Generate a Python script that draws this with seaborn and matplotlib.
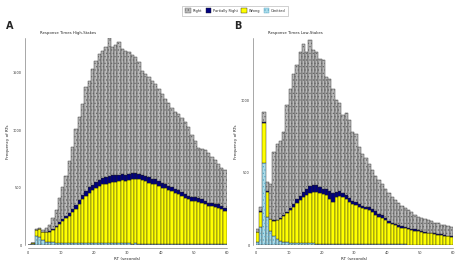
import numpy as np
import pandas as pd
import matplotlib.pyplot as plt
from matplotlib.patches import Patch, Rectangle
from matplotlib.colors import to_rgba
import seaborn as sns

# RT bins of 1 second, 0..60
bin_edges = list(range(0, 61))
categories = ["Right", "Partially Right", "Wrong", "Omitted"]

# Panel A: high stakes (counts per 1 s bin)
high_right = [0, 2, 7, 12, 14, 37, 52, 97, 138, 214, 281, 342, 450, 538, 662, 719, 786, 902, 923, 1004,
              1048, 1095, 1103, 1130, 1202, 1113, 1128, 1150, 1086, 1072, 1055, 1023, 1002, 967, 897, 880, 869, 850, 824, 798,
              768, 733, 724, 687, 669, 667, 647, 628, 600, 544, 489, 437, 434, 439, 435, 395, 383, 350, 336, 332]
high_partial = [0, 0, 3, 3, 3, 4, 6, 9, 12, 15, 18, 22, 25, 30, 34, 38, 42, 45, 48, 50,
                52, 53, 55, 56, 55, 56, 58, 56, 55, 56, 57, 55, 53, 50, 50, 47, 46, 44, 44, 42,
                42, 40, 39, 38, 36, 35, 35, 33, 33, 33, 31, 31, 30, 30, 29, 29, 28, 28, 27, 27]
high_wrong = [0, 8, 52, 65, 69, 79, 87, 108, 137, 163, 189, 213, 232, 269, 291, 336, 380, 408, 438, 459,
              483, 496, 512, 519, 526, 536, 536, 543, 548, 543, 549, 558, 563, 558, 550, 545, 529, 516, 516, 501,
              488, 481, 465, 459, 444, 431, 415, 402, 387, 373, 373, 366, 358, 345, 330, 330, 324, 316, 302, 288]
high_omitted = [0, 10, 78, 70, 44, 30, 26, 22, 20, 20, 20, 19, 20, 18, 19, 18, 17, 18, 17, 17,
                16, 17, 16, 15, 16, 15, 15, 14, 15, 14, 14, 13, 14, 13, 13, 12, 13, 12, 12, 12,
                11, 12, 11, 11, 11, 10, 11, 10, 10, 10, 10, 9, 10, 9, 9, 9, 8, 9, 8, 8]

# Panel B: low stakes
low_right = [18, 27, 67, 59, 237, 470, 525, 532, 574, 736, 825, 900, 927, 994, 1027, 949, 1009, 931, 921, 888,
             891, 776, 775, 721, 635, 608, 539, 563, 537, 480, 474, 397, 359, 334, 300, 270, 248, 232, 210, 202,
             191, 175, 163, 151, 140, 130, 124, 114, 102, 94, 93, 89, 87, 79, 75, 75, 65, 65, 66, 66]
low_partial = [0, 5, 10, 8, 3, 5, 5, 8, 8, 10, 15, 20, 25, 30, 35, 40, 45, 46, 45, 40,
               35, 40, 55, 60, 35, 30, 28, 28, 25, 22, 20, 18, 18, 16, 18, 20, 22, 22, 20, 18,
               15, 12, 12, 10, 10, 10, 8, 8, 8, 7, 7, 6, 6, 6, 5, 5, 5, 5, 4, 4]
low_wrong = [72, 105, 275, 175, 80, 105, 130, 152, 178, 202, 226, 246, 276, 297, 318, 333, 349, 357, 358, 350,
             340, 336, 311, 291, 322, 332, 322, 313, 293, 273, 269, 259, 247, 244, 239, 225, 205, 190, 185, 165,
             146, 139, 131, 122, 116, 111, 107, 100, 97, 92, 87, 82, 77, 77, 73, 68, 68, 63, 58, 55]
low_omitted = [20, 125, 565, 193, 100, 60, 40, 28, 22, 18, 15, 14, 14, 13, 12, 12, 11, 11, 10, 10,
               10, 9, 9, 9, 8, 8, 8, 7, 7, 7, 7, 6, 6, 6, 6, 5, 5, 5, 5, 5,
               4, 4, 4, 4, 4, 4, 3, 3, 3, 3, 3, 3, 3, 3, 2, 2, 2, 2, 2, 2]

colors = {"Right": "#b9b9b9", "Partially Right": "#000080", "Wrong": "#ffff00", "Omitted": "#a9dcea"}
hatch_colors = {"Right": "#666666", "Omitted": "#5aa6c4"}


def make_long(series):
    rows = []
    for cat, vals in zip(categories, series):
        for i, v in enumerate(vals):
            rows.append({"rt": bin_edges[i] + 0.5, "type": cat, "count": v})
    return pd.DataFrame(rows)


sns.set_style("white")
plt.rcParams["font.family"] = ["DejaVu Sans"]
plt.rcParams["hatch.linewidth"] = 0.5

fig = plt.figure(figsize=(4.57, 2.61), dpi=100)
axA = fig.add_axes([0.0613, 0.0613, 0.435, 0.793])
axB = fig.add_axes([0.560, 0.0613, 0.431, 0.793])

panels = [
    (axA, [high_right, high_partial, high_wrong, high_omitted], "Response Times High-Stakes", 1800, [0, 500, 1000, 1500], "A"),
    (axB, [low_right, low_partial, low_wrong, low_omitted], "Response Times Low-Stakes", 1430, [0, 500, 1000], "B"),
]

for ax, series, title, ytop, yticks, letter in panels:
    df = make_long(series)
    sns.histplot(data=df, x="rt", weights="count", hue="type", hue_order=categories,
                 multiple="stack", bins=bin_edges, palette=colors, alpha=1,
                 edgecolor="#222222", linewidth=0.3, legend=False, ax=ax)
    # dotted texture on Right / Omitted bars
    for p in list(ax.patches):
        fc = p.get_facecolor()
        for cat, hc in hatch_colors.items():
            if np.allclose(fc, to_rgba(colors[cat]), atol=0.01) and p.get_height() > 0:
                ax.add_patch(Rectangle((p.get_x(), p.get_y()), p.get_width(), p.get_height(),
                                       fill=False, hatch=".....", edgecolor=hc, linewidth=0, zorder=p.get_zorder() + 0.1))
    ax.set_xlim(0, 60)
    ax.set_ylim(0, ytop)
    ax.set_xticks(range(0, 61, 10))
    ax.set_yticks(yticks)
    ax.tick_params(labelsize=2.5, length=1.5, width=0.4, pad=1, colors="#555555", labelcolor="#333333")
    ax.set_xlabel("RT (seconds)", fontsize=3, labelpad=1)
    ax.set_ylabel("Frequency of RTs", fontsize=3, labelpad=2)
    ax.text(0.06, 1.015, title, transform=ax.transAxes, fontsize=2.8, ha="left", va="bottom")
    for side in ["top", "right"]:
        ax.spines[side].set_visible(False)
    for side in ["left", "bottom"]:
        ax.spines[side].set_linewidth(0.4)
        ax.spines[side].set_color("#666666")
        ax.spines[side].set_position(("outward", 2))
    ax.text(-0.11, 1.035, letter, transform=ax.transAxes, fontsize=7, fontweight="bold", ha="left", va="bottom")

handles = [Patch(facecolor=colors[c], edgecolor=hatch_colors.get(c, "#222222"),
                 hatch="....." if c in hatch_colors else None, linewidth=0.3) for c in categories]
fig.legend(handles, categories, loc="upper center", bbox_to_anchor=(0.515, 0.985), ncol=4,
           fontsize=2.5, frameon=True, edgecolor="#999999", fancybox=False,
           handlelength=1.6, handleheight=1.6, columnspacing=1.0, handletextpad=0.5,
           borderpad=0.8).get_frame().set_linewidth(0.4)

fig.savefig("out.png", dpi=100)
